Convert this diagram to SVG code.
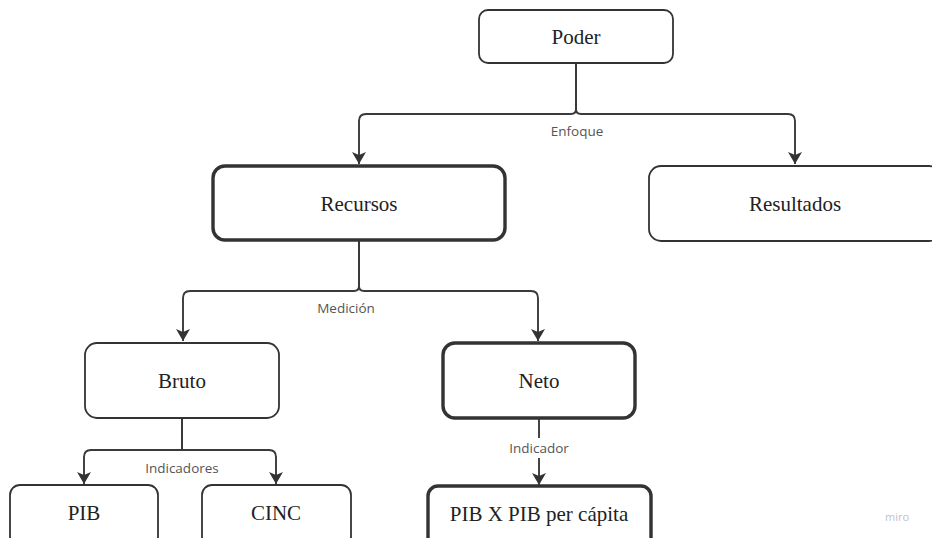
<svg xmlns="http://www.w3.org/2000/svg" width="932" height="538" viewBox="0 0 932 538">
<style>
.box{fill:#fff;stroke:#333;stroke-width:1.8}
.thick{stroke-width:3.4}
.lbl{font-family:"Liberation Serif","Times New Roman",serif;font-size:21px;fill:#222;text-anchor:middle;dominant-baseline:central}
.edge{fill:none;stroke:#3a3a3a;stroke-width:1.9}
.elbl{font-family:"Open Sans","Noto Sans",sans-serif;font-size:13.5px;fill:#555;text-anchor:middle;dominant-baseline:central}
</style>
<defs>
<marker id="ah" viewBox="0 0 12 14" refX="12" refY="7" markerWidth="12" markerHeight="14" markerUnits="userSpaceOnUse" orient="auto">
<path d="M0,0 L3,7 L0,14 L12,7 Z" fill="#333"/>
</marker>
</defs>
<rect width="932" height="538" fill="#fff"/>
<g id="connectors">
<path class="edge" d="M576,63 V109 Q576,114 571,114 H366 Q359,114 359,121 V164" marker-end="url(#ah)"/>
<path class="edge" d="M576,63 V109 Q576,114 581,114 H788 Q795,114 795,121 V164" marker-end="url(#ah)"/>
<text class="elbl" x="577" y="131">Enfoque</text>
<path class="edge" d="M359,240 V286 Q359,291 354,291 H190 Q183,291 183,298 V341" marker-end="url(#ah)"/>
<path class="edge" d="M359,240 V286 Q359,291 364,291 H531 Q538,291 538,298 V341" marker-end="url(#ah)"/>
<text class="elbl" x="346" y="308">Medición</text>
<path class="edge" d="M182,418 V450 H91 Q84,450 84,457 V484" marker-end="url(#ah)"/>
<path class="edge" d="M182,418 V450 H269 Q276,450 276,457 V484" marker-end="url(#ah)"/>
<text class="elbl" x="182" y="468">Indicadores</text>
<path class="edge" d="M539,419 V438"/>
<path class="edge" d="M539,458 V485" marker-end="url(#ah)"/>
<text class="elbl" x="539" y="448">Indicador</text>
</g>
<g id="poder">
<rect class="box" x="479" y="10" width="194" height="53" rx="9"/>
<text class="lbl" x="576" y="37">Poder</text>
</g>
<g id="recursos">
<rect class="box thick" x="213" y="166" width="292" height="74" rx="12"/>
<text class="lbl" x="359" y="204">Recursos</text>
</g>
<g id="resultados">
<rect class="box" x="649" y="166" width="292" height="75" rx="12"/>
<text class="lbl" x="795" y="204">Resultados</text>
</g>
<g id="bruto">
<rect class="box" x="85" y="343" width="194" height="75" rx="12"/>
<text class="lbl" x="182" y="381">Bruto</text>
</g>
<g id="neto">
<rect class="box thick" x="443" y="343" width="192" height="75" rx="12"/>
<text class="lbl" x="539" y="381">Neto</text>
</g>
<g id="pib">
<rect class="box" x="10" y="485" width="148" height="70" rx="10"/>
<text class="lbl" x="84" y="513">PIB</text>
</g>
<g id="cinc">
<rect class="box" x="202" y="485" width="149" height="70" rx="10"/>
<text class="lbl" x="276" y="513">CINC</text>
</g>
<g id="pibxpib">
<rect class="box thick" x="428" y="486" width="223" height="70" rx="10"/>
<text class="lbl" x="539" y="514">PIB X PIB per cápita</text>
</g>
<text x="897" y="516" font-family="Open Sans, sans-serif" font-size="11" fill="#c0c0d0" text-anchor="middle" dominant-baseline="central">miro</text>
</svg>
